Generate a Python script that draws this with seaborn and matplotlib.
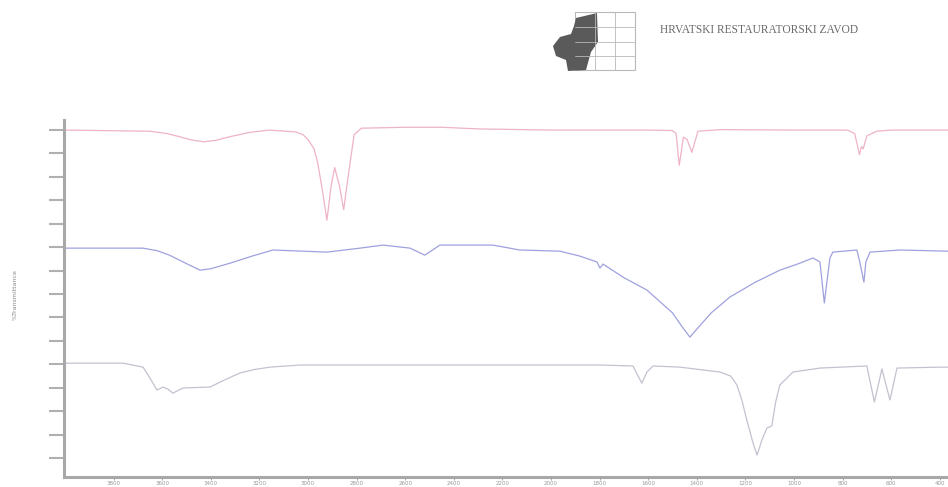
import numpy as np
import pandas as pd
import matplotlib
matplotlib.use("Agg")
import matplotlib.pyplot as plt
import seaborn as sns
from matplotlib.patches import Rectangle, Polygon

# IR spectra, stacked, wavenumber (cm-1) vs transmittance (arbitrary offset units)
wax_wn = [4000, 3650, 3580, 3530, 3480, 3430, 3380, 3320, 3240, 3160, 3050, 3020,
          3000, 2975, 2960, 2940, 2922, 2905, 2890, 2870, 2853, 2835, 2810, 2780,
          2600, 2450, 2300, 2000, 1600, 1500, 1485, 1472, 1455, 1440, 1420, 1395,
          1300, 1000, 780, 750, 730, 722, 715, 700, 660, 600, 366]
wax_t = [14.0, 13.95, 13.85, 13.72, 13.58, 13.5, 13.56, 13.72, 13.9, 14.0, 13.92, 13.8,
         13.6, 13.2, 12.6, 11.4, 10.15, 11.6, 12.4, 11.6, 10.6, 12.0, 13.8, 14.08,
         14.12, 14.12, 14.05, 14.0, 14.0, 13.98, 13.85, 12.5, 13.7, 13.6, 13.05, 13.95,
         14.02, 14.0, 14.0, 13.85, 12.95, 13.3, 13.2, 13.75, 13.95, 14.0, 14.0]

calcite_wn = [4000, 3680, 3620, 3570, 3500, 3444, 3400, 3320, 3230, 3144, 2922, 2786,
              2691, 2580, 2519, 2457, 2239, 2128, 1963, 1881, 1811, 1798, 1786, 1700,
              1605, 1500, 1460, 1428, 1400, 1340, 1264, 1160, 1058, 980, 922, 893, 875,
              852, 840, 741, 729, 712, 704, 687, 564, 366]
calcite_t = [8.96, 8.96, 8.85, 8.66, 8.3, 8.02, 8.08, 8.32, 8.62, 8.88, 8.79, 8.96,
             9.09, 8.96, 8.66, 9.09, 9.09, 8.88, 8.83, 8.62, 8.37, 8.11, 8.28, 7.7,
             7.17, 6.2, 5.6, 5.16, 5.5, 6.2, 6.87, 7.5, 8.02, 8.3, 8.54, 8.37, 6.62,
             8.54, 8.79, 8.88, 8.37, 7.51, 8.37, 8.79, 8.88, 8.83]

gypsum_wn = [4000, 3761, 3679, 3650, 3621, 3597, 3576, 3556, 3514, 3403, 3350, 3280,
             3220, 3156, 3033, 1798, 1663, 1626, 1605, 1580, 1469, 1305, 1260, 1235,
             1215, 1194, 1170, 1152, 1140, 1132, 1111, 1091, 1075, 1058, 1004, 893,
             700, 669, 638, 605, 576, 399, 366]
gypsum_t = [4.05, 4.05, 3.88, 3.41, 2.9, 3.03, 2.94, 2.77, 2.99, 3.03, 3.3, 3.63,
            3.78, 3.88, 3.97, 3.97, 3.93, 3.2, 3.67, 3.93, 3.88, 3.67, 3.5, 3.12,
            2.5, 1.62, 0.7, 0.13, 0.5, 0.77, 1.28, 1.37, 2.4, 3.12, 3.67, 3.84, 3.93,
            2.39, 3.8, 2.48, 3.84, 3.88, 3.88]

x_ticks = list(range(3800, 399, -200))
y_ticks = list(range(0, 15))
colors = {"wax": "#eeb3c4", "calcite": "#9fa1df", "gypsum": "#c2c2d0"}


def px(x, y):
    # pixel coords -> figure fraction
    return x / 948, 1 - y / 487


def draw_logo(fig):
    grey = "#b8b8b8"
    x0, y0 = px(575, 70)
    x1, y1 = px(635, 12)
    fig.add_artist(Rectangle((x0, y0), x1 - x0, y1 - y0, fill=False, ec=grey, lw=0.8,
                             transform=fig.transFigure))
    for gx in [595, 615]:
        a, b = px(gx, 12)
        c, d = px(gx, 70)
        fig.add_artist(plt.Line2D([a, c], [b, d], color=grey, lw=0.6, transform=fig.transFigure))
    for gy in [27, 42, 56]:
        a, b = px(575, gy)
        c, d = px(635, gy)
        fig.add_artist(plt.Line2D([a, c], [b, d], color=grey, lw=0.6, transform=fig.transFigure))
    shape = [(576, 18), (597, 13), (598, 42), (591, 52), (586, 70), (568, 71), (566, 60),
             (556, 56), (553, 46), (560, 37), (571, 34), (574, 26)]
    fig.add_artist(Polygon([px(*p) for p in shape], closed=True, fc="#5a5a5a", ec="none",
                           transform=fig.transFigure))
    tx, ty = px(660, 30)
    fig.text(tx, ty, "HRVATSKI RESTAURATORSKI ZAVOD", fontsize=8.3, color="#6a6a6a",
             family="Liberation Serif", va="center", ha="left")


def main():
    sns.set_style("white")
    fig = plt.figure(figsize=(9.48, 4.87), dpi=100)
    ax = fig.add_axes([64 / 948, 1 - 477 / 487, (948 - 64) / 948, (477 - 120) / 487])

    for name, wn, t in [("wax", wax_wn, wax_t), ("calcite", calcite_wn, calcite_t),
                        ("gypsum", gypsum_wn, gypsum_t)]:
        df = pd.DataFrame({"wn": wn, "t": t})
        sns.lineplot(data=df, x="wn", y="t", sort=False, color=colors[name], lw=0.9, ax=ax)

    ax.set_xlim(4004, 366)
    ax.set_ylim(-0.81, 14.43)
    ax.set_xticks(x_ticks)
    ax.set_xticklabels([str(v) for v in x_ticks], fontsize=4, color="#999999")
    ax.set_yticks(y_ticks)
    ax.set_yticklabels([])
    ax.tick_params(axis="y", length=11, width=1.5, color="#b0b0b0", left=True)
    ax.tick_params(axis="x", length=2, width=0.8, color="#aaaaaa", pad=1, bottom=True)
    ax.set_xlabel("")
    ax.set_ylabel("")
    for s in ["top", "right"]:
        ax.spines[s].set_visible(False)
    for s in ["left", "bottom"]:
        ax.spines[s].set_color("#a8a8a8")
        ax.spines[s].set_linewidth(2.2)

    lx, ly = px(15, 295)
    fig.text(lx, ly, "%Transmittance", rotation=90, fontsize=4.5, color="#888888",
             ha="center", va="center")

    draw_logo(fig)
    fig.savefig("out.png", dpi=100)


if __name__ == "__main__":
    main()
